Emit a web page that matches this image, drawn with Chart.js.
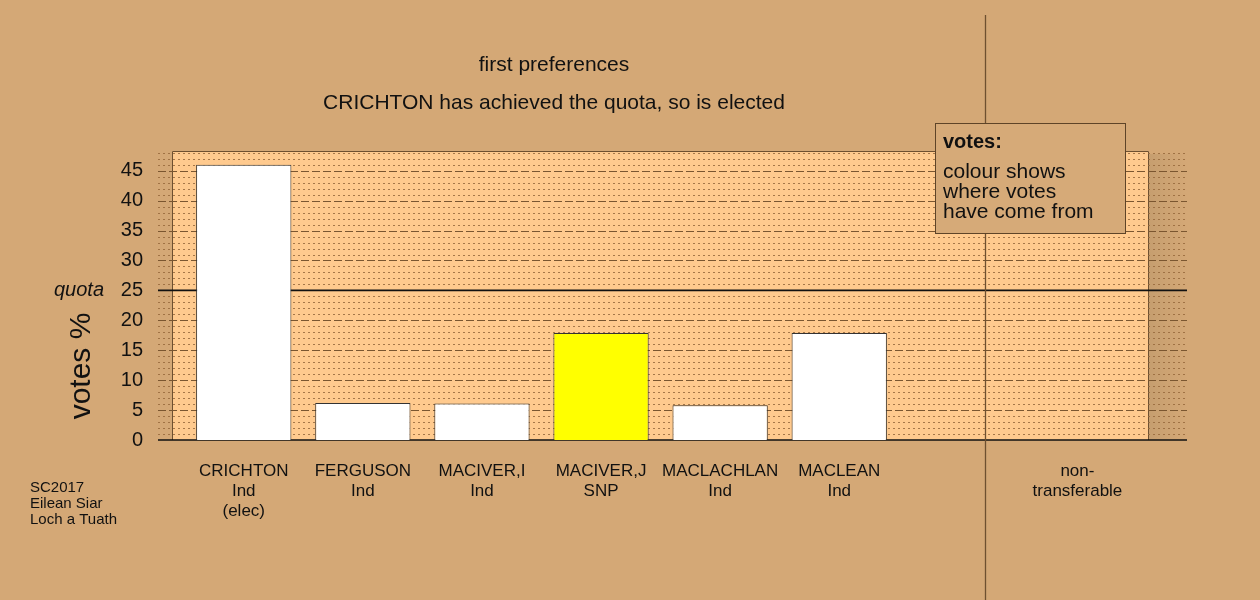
<!DOCTYPE html>
<html>
<head>
<meta charset="utf-8">
<script src="https://cdn.jsdelivr.net/npm/chart.js@4"></script>
<style>
  html, body { margin: 0; padding: 0; background: #d4a876; }
  #wrap { width: 1260px; height: 600px; }
</style>
</head>
<body>
<div id="wrap"><canvas id="chart" width="1260" height="600"></canvas></div>
<script>
const categoryLabels = [
  ['CRICHTON', 'Ind', '(elec)'],
  ['FERGUSON', 'Ind'],
  ['MACIVER,I', 'Ind'],
  ['MACIVER,J', 'SNP'],
  ['MACLACHLAN', 'Ind'],
  ['MACLEAN', 'Ind'],
  [''],
  ['non-', 'transferable'],
];
const votesPct = [46.0, 6.2, 6.1, 17.9, 5.8, 17.9];
const barColours = ['#ffffff', '#ffffff', '#ffffff', '#ffff00', '#ffffff', '#ffffff'];
const quota = 25;
const yTicks = [0, 5, 10, 15, 20, 25, 30, 35, 40, 45];
const titleLines = ['first preferences', 'CRICHTON has achieved the quota, so is elected'];
const noteLines = ['SC2017', 'Eilean Siar', 'Loch a Tuath'];
const keyTitle = 'votes:';
const keyLines = ['colour shows', 'where votes', 'have come from'];

const FONT = '"Liberation Sans", Arial, Helvetica, sans-serif';
const BG = '#d4a876';

function hline(ctx, y, x0, x1, colour, width, dash) {
  ctx.save();
  ctx.strokeStyle = colour;
  ctx.lineWidth = width;
  ctx.setLineDash(dash || []);
  ctx.beginPath();
  ctx.moveTo(x0, y);
  ctx.lineTo(x1, y);
  ctx.stroke();
  ctx.restore();
}

const backdrop = {
  id: 'backdrop',
  beforeDraw(chart) {
    const { ctx, chartArea: a, scales: { x, y } } = chart;
    ctx.save();
    ctx.fillStyle = BG;
    ctx.fillRect(0, 0, chart.width, chart.height);

    // panel behind the bars, with a soft shadow on its right
    const pl = Math.round(x.getPixelForValue(-0.6));
    const pr = Math.round(x.getPixelForValue(7.6));
    const left = Math.round(a.left);
    const right = Math.round(a.right);
    const g = ctx.createLinearGradient(pr, 0, right, 0);
    g.addColorStop(0, '#c69e6f');
    g.addColorStop(1, BG);
    ctx.fillStyle = g;
    ctx.fillRect(pr, a.top + 3, right - pr, a.bottom - a.top - 3);
    ctx.fillStyle = '#ffca8e';
    ctx.fillRect(pl, a.top, pr - pl, a.bottom - a.top);
    ctx.strokeStyle = '#6e5030';
    ctx.lineWidth = 1;
    ctx.beginPath();
    ctx.moveTo(pl + 0.5, a.bottom);
    ctx.lineTo(pl + 0.5, Math.round(a.top) + 0.5);
    ctx.lineTo(pr - 0.5, Math.round(a.top) + 0.5);
    ctx.lineTo(pr - 0.5, a.bottom);
    ctx.stroke();

    // minor dotted lines every unit, dashed every five
    for (let v = 1; v <= Math.floor(y.max); v++) {
      const py = Math.round(y.getPixelForValue(v)) + 0.5;
      if (v === quota) continue;
      if (v % 5 === 0) {
        hline(ctx, py, left, right, '#7a5630', 1, [8, 3]);
      } else {
        hline(ctx, py, left, right, 'rgba(150,105,60,0.85)', 1, [2, 3]);
      }
    }
    hline(ctx, y.getPixelForValue(quota), left, right, '#111', 1.6);
    hline(ctx, y.getPixelForValue(0), left, right, '#111', 1.6);

    // divider before the non-transferable column
    const dx = Math.round(x.getPixelForValue(6.22)) + 0.5;
    ctx.strokeStyle = '#6e5030';
    ctx.lineWidth = 1.3;
    ctx.beginPath();
    ctx.moveTo(dx, 15);
    ctx.lineTo(dx, chart.height);
    ctx.stroke();
    ctx.restore();
  },
  afterDraw(chart) {
    const { ctx, scales: { y } } = chart;
    ctx.save();
    ctx.fillStyle = '#111';
    ctx.textBaseline = 'middle';

    ctx.textAlign = 'center';
    ctx.font = '21px ' + FONT;
    ctx.fillText(titleLines[0], 554, 65);
    ctx.fillText(titleLines[1], 554, 103);

    ctx.textAlign = 'right';
    ctx.font = 'italic 20px ' + FONT;
    ctx.fillText('quota', 104, y.getPixelForValue(quota));

    ctx.save();
    ctx.translate(82, 366);
    ctx.rotate(-Math.PI / 2);
    ctx.textAlign = 'center';
    ctx.font = '30px ' + FONT;
    ctx.fillText('votes %', 0, 0);
    ctx.restore();

    ctx.textAlign = 'left';
    ctx.font = '15px ' + FONT;
    noteLines.forEach((t, i) => ctx.fillText(t, 30, 488 + i * 16));

    // key box
    ctx.fillStyle = '#d6aa78';
    ctx.fillRect(935, 123, 191, 111);
    ctx.strokeStyle = '#5e4428';
    ctx.lineWidth = 1;
    ctx.strokeRect(935.5, 123.5, 190, 110);
    ctx.fillStyle = '#111';
    ctx.font = 'bold 20px ' + FONT;
    ctx.fillText(keyTitle, 943, 142);
    ctx.font = '21px ' + FONT;
    keyLines.forEach((t, i) => ctx.fillText(t, 943, 172 + i * 20));
    ctx.restore();
  },
};

new Chart(document.getElementById('chart'), {
  type: 'bar',
  data: {
    datasets: [
      {
        data: votesPct.map((v, i) => ({ x: i, y: v })),
        backgroundColor: barColours,
        borderColor: '#333',
        borderWidth: 1,
        borderSkipped: 'bottom',
        barPercentage: 1,
        categoryPercentage: 0.8,
      },
    ],
  },
  options: {
    responsive: false,
    animation: false,
    layout: { padding: { top: 151, right: 73, left: 0, bottom: 0 } },
    plugins: { legend: { display: false }, tooltip: { enabled: false } },
    scales: {
      x: {
        type: 'linear',
        min: -0.72,
        max: 7.92,
        offset: false,
        grid: { display: false, drawTicks: false },
        border: { display: false },
        afterBuildTicks: (s) => { s.ticks = categoryLabels.map((_, i) => ({ value: i })); },
        afterFit: (s) => { s.height = 160; },
        ticks: {
          autoSkip: false,
          maxRotation: 0,
          padding: 21,
          color: '#111',
          font: { family: FONT, size: 17, lineHeight: '20px' },
          callback: (v) => categoryLabels[v] || '',
        },
      },
      y: {
        min: 0,
        max: 48.3,
        grid: { display: false, drawTicks: false },
        border: { display: false },
        afterBuildTicks: (s) => { s.ticks = yTicks.map((v) => ({ value: v })); },
        afterFit: (s) => { s.width = 158; },
        ticks: {
          padding: 15,
          color: '#111',
          font: { family: FONT, size: 20 },
        },
      },
    },
  },
  plugins: [backdrop],
});
</script>
</body>
</html>
